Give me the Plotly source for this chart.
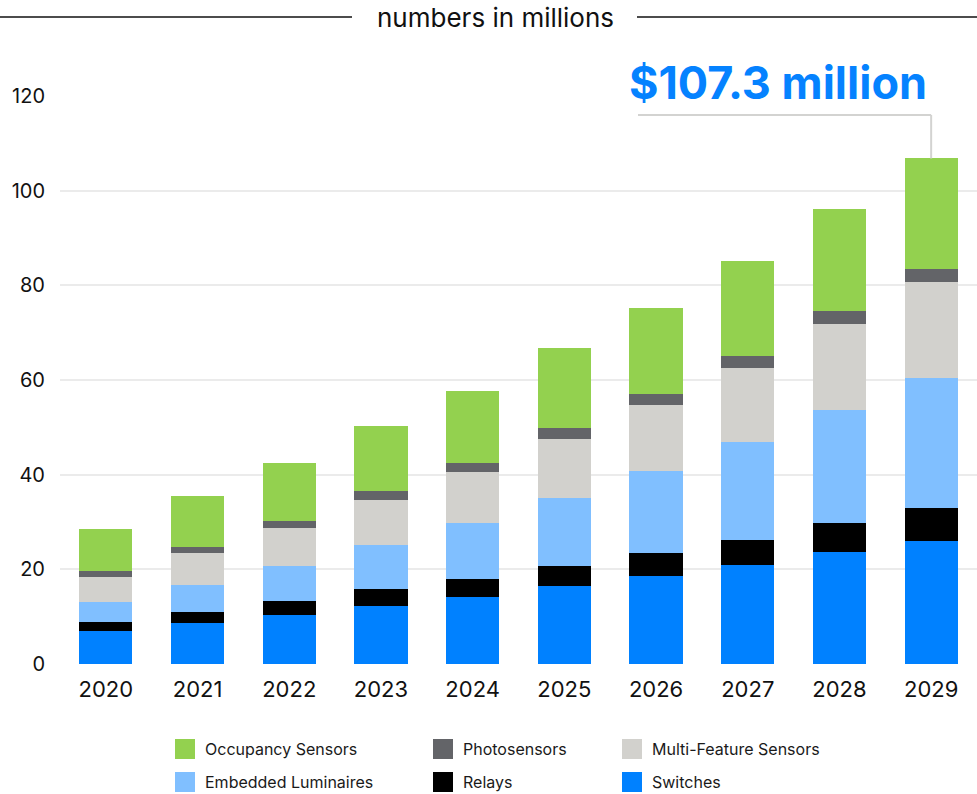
import plotly.graph_objects as go

years = ["2020", "2021", "2022", "2023", "2024", "2025", "2026", "2027", "2028", "2029"]

switches = [6.9, 8.6, 10.3, 12.2, 14.1, 16.4, 18.5, 20.9, 23.6, 25.9]
relays = [1.9, 2.4, 3.0, 3.6, 3.8, 4.3, 4.9, 5.4, 6.1, 7.0]
embedded = [4.2, 5.6, 7.4, 9.3, 11.8, 14.3, 17.3, 20.5, 24.0, 27.6]
multi_feature = [5.4, 6.8, 8.0, 9.5, 10.8, 12.6, 14.1, 15.8, 18.2, 20.2]
photosensors = [1.3, 1.3, 1.6, 1.9, 1.9, 2.3, 2.3, 2.5, 2.7, 2.8]
occupancy = [8.9, 10.7, 12.1, 13.7, 15.3, 16.9, 18.1, 20.0, 21.5, 23.3]

series_names = ["Switches", "Relays", "Embedded Luminaires", "Multi-Feature Sensors",
                "Photosensors", "Occupancy Sensors"]
series_values = [switches, relays, embedded, multi_feature, photosensors, occupancy]
series_colors = ["#0081FF", "#000000", "#80BFFF", "#D2D1CD", "#636468", "#93D14F"]

y_ticks = [0, 20, 40, 60, 80, 100, 120]
title_text = "numbers in millions"
callout_text = "$107.3 million"

FONT = "Inter, Roboto, sans-serif"
W, H = 977, 794
ML, MR, MT, MB = 60, 0, 95, 130
PW, PH = W - ML - MR, H - MT - MB
YMAX = 120.2


def px_x(p):
    return (p - ML) / PW


def px_y(p):
    return (H - MB - p) / PH


def cat_x(p):
    return (p - ML) / (PW / len(years)) - 0.5


def val_y(p):
    return (H - MB - p) / PH * YMAX


fig = go.Figure()
for name, vals, col in zip(series_names, series_values, series_colors):
    fig.add_trace(go.Bar(x=years, y=vals, name=name, marker=dict(color=col, line=dict(width=0)),
                         showlegend=False))

fig.update_layout(
    barmode="stack",
    bargap=0.42,
    width=W, height=H,
    margin=dict(l=ML, r=MR, t=MT, b=MB, pad=0),
    paper_bgcolor="white", plot_bgcolor="white",
    font=dict(family=FONT, color="#111111"),
    xaxis=dict(type="category", range=[-0.5, len(years) - 0.5], showgrid=False, zeroline=False,
               showline=False, ticks="", tickfont=dict(size=22, color="#111111"),
               ticklabelstandoff=10),
    yaxis=dict(range=[0, YMAX], tickvals=y_ticks, showgrid=True, gridcolor="#EBEBEB", gridwidth=1.5,
               zeroline=False, showline=False, ticks="", tickfont=dict(size=20, color="#111111"),
               ticklabelstandoff=14),
)

# title with side rules
fig.add_annotation(x=px_x(495), y=px_y(18), xref="paper", yref="paper", text=title_text,
                   showarrow=False, font=dict(size=26, color="#111111", family=FONT),
                   xanchor="center", yanchor="middle")
fig.add_shape(type="line", xref="paper", yref="paper", x0=px_x(0), x1=px_x(352),
              y0=px_y(17), y1=px_y(17), line=dict(color="#111111", width=1.5))
fig.add_shape(type="line", xref="paper", yref="paper", x0=px_x(637), x1=px_x(977),
              y0=px_y(17), y1=px_y(17), line=dict(color="#111111", width=1.5))

# hide gridline behind callout
fig.add_shape(type="rect", xref="paper", yref="paper", x0=px_x(602), x1=px_x(977),
              y0=px_y(101), y1=px_y(91), fillcolor="white", line=dict(width=0), layer="above")

# callout
total_last = sum(v[-1] for v in series_values)
fig.add_annotation(x=cat_x(778), y=px_y(83), xref="x", yref="paper", text="<b>" + callout_text + "</b>",
                   showarrow=False, font=dict(size=45, color="#0582FF", family=FONT),
                   xanchor="center", yanchor="middle")
y_conn = val_y(115)
fig.add_shape(type="line", xref="x", yref="y", x0=cat_x(638), x1=len(years) - 1,
              y0=y_conn, y1=y_conn, line=dict(color="#D3D3D1", width=2))
fig.add_shape(type="line", xref="x", yref="y", x0=len(years) - 1, x1=len(years) - 1,
              y0=y_conn, y1=total_last, line=dict(color="#D3D3D1", width=2))

# manual legend (grid of 2 rows x 3 columns)
legend_order = ["Occupancy Sensors", "Photosensors", "Multi-Feature Sensors",
                "Embedded Luminaires", "Relays", "Switches"]
col_px = [175, 433, 622]
row_px = [749, 782]
for i, name in enumerate(legend_order):
    r, c = divmod(i, 3)
    col = series_colors[series_names.index(name)]
    cx, cy = col_px[c], row_px[r]
    fig.add_shape(type="rect", xref="paper", yref="paper", x0=px_x(cx), x1=px_x(cx + 20),
                  y0=px_y(cy + 10), y1=px_y(cy - 10), fillcolor=col, line=dict(width=0))
    fig.add_annotation(x=px_x(cx + 28), y=px_y(cy), xref="paper", yref="paper", text=name,
                       showarrow=False, font=dict(size=16, color="#1A1A1A", family=FONT),
                       xanchor="left", yanchor="middle")

fig.write_html("out.html")
